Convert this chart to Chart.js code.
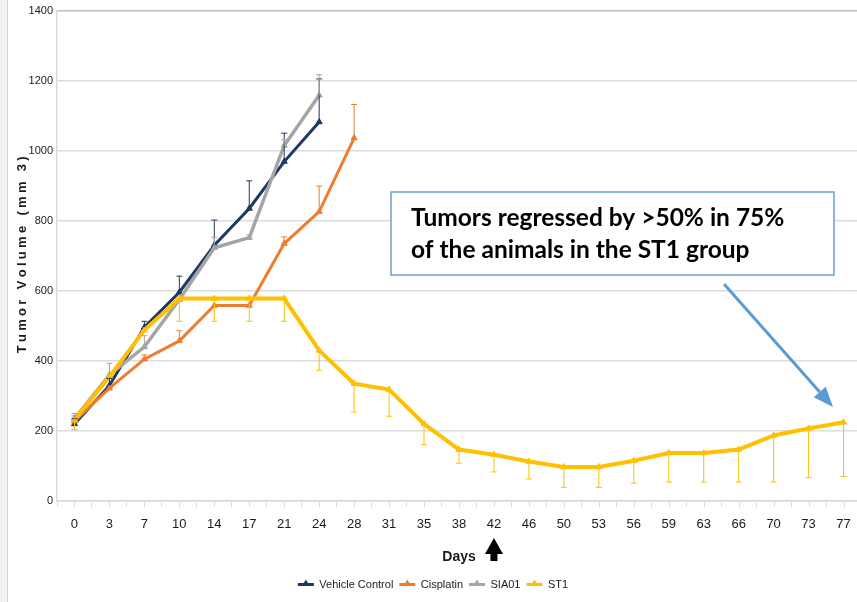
<!DOCTYPE html>
<html>
<head>
<meta charset="utf-8">
<script src="https://cdn.jsdelivr.net/npm/chart.js@4.4.1/dist/chart.umd.min.js"></script>
<style>
  html, body { margin: 0; padding: 0; background: #fff; }
  #wrap { position: relative; width: 857px; height: 602px; overflow: hidden; }
  #edge { position: absolute; left: 0; top: 0; width: 7px; height: 602px; background: #f2f2f2; border-right: 1px solid #d4d4d4; z-index: 2; }
  #chart { position: absolute; left: 0; top: 0; }
</style>
</head>
<body>
<div id="wrap">
  <div id="edge"></div>
  <canvas id="chart" width="866" height="602"></canvas>
</div>
<script>
// x categories (days)
const days = ['0', '3', '7', '10', '14', '17', '21', '24', '28', '31', '35', '38', '42', '46', '50', '53', '56', '59', '63', '66', '70', '73', '77'];

// mean tumor volume (mm3) per group
const vehicleControl = [220, 330, 496, 596, 730, 835, 969, 1082];
const cisplatin = [228, 322, 405, 457, 558, 558, 735, 826, 1036];
const sia01 = [235, 360, 440, 575, 723, 752, 1015, 1158];
const st1 = [232, 355, 488, 578, 578, 578, 578, 430, 335, 318, 220, 147, 132, 113, 97, 97, 115, 137, 137, 147, 187, 207, 225];

// error bars (upper for the growing groups, lower for ST1)
const vehicleErrUp = [15, 20, 17, 46, 72, 79, 81, 123];
const cisplatinErrUp = [15, 0, 12, 29, 0, 0, 19, 73, 96];
const sia01ErrUp = [15, 33, 32, 0, 30, 8, 16, 59];
const st1ErrDown = [28, 0, 0, 65, 65, 65, 65, 57, 81, 76, 59, 39, 49, 50, 58, 58, 64, 83, 83, 93, 133, 140, 155];

const NAVY = '#1f3864';
const ORANGE = '#ed7d31';
const GRAY = '#a5a5a5';
const GOLD = '#ffc000';
const SANS = "'Liberation Sans', Arial, sans-serif";

const errorSets = [
  { data: vehicleControl, err: vehicleErrUp, dir: 1, color: NAVY },
  { data: cisplatin, err: cisplatinErrUp, dir: 1, color: ORANGE },
  { data: sia01, err: sia01ErrUp, dir: 1, color: GRAY },
  { data: st1, err: st1ErrDown, dir: -1, color: GOLD }
];

const errorBars = {
  id: 'errorBars',
  afterDatasetsDraw(chart) {
    const { ctx, scales: { x, y } } = chart;
    ctx.save();
    ctx.lineWidth = 1;
    errorSets.forEach(set => {
      ctx.strokeStyle = set.color;
      set.data.forEach((v, i) => {
        const e = set.err[i];
        if (!e) return;
        const px = x.getPixelForValue(i);
        const py = y.getPixelForValue(v);
        const ey = y.getPixelForValue(v + set.dir * e);
        ctx.beginPath();
        ctx.moveTo(px, py);
        ctx.lineTo(px, ey);
        ctx.moveTo(px - 3, ey);
        ctx.lineTo(px + 3, ey);
        ctx.stroke();
      });
    });
    ctx.restore();
  }
};

// extra tick marks under each category, plus the y title and the callouts
const decorations = {
  id: 'decorations',
  afterDraw(chart) {
    const { ctx, chartArea, scales: { x } } = chart;
    ctx.save();

    // center ticks
    ctx.strokeStyle = '#d9d9d9';
    ctx.lineWidth = 1;
    days.forEach((d, i) => {
      const px = Math.round(x.getPixelForValue(i)) + 0.5;
      ctx.beginPath();
      ctx.moveTo(px, chartArea.bottom);
      ctx.lineTo(px, chartArea.bottom + 6);
      ctx.stroke();
    });

    // y axis title, letter spaced
    const title = 'Tumor Volume (mm 3)';
    ctx.font = 'bold 13px ' + SANS;
    ctx.fillStyle = '#1a1a1a';
    const span = 195;
    const raw = ctx.measureText(title).width;
    const gap = (span - raw) / (title.length - 1);
    ctx.translate(26, (chartArea.top + chartArea.bottom) / 2 + span / 2);
    ctx.rotate(-Math.PI / 2);
    ctx.textBaseline = 'alphabetic';
    let cx = 0;
    for (const ch of title) {
      ctx.fillText(ch, cx, 0);
      cx += ctx.measureText(ch).width + gap;
    }
    ctx.setTransform(1, 0, 0, 1, 0, 0);

    // black arrow under day 42
    const ax = x.getPixelForValue(days.indexOf('42'));
    ctx.fillStyle = '#000';
    ctx.beginPath();
    ctx.moveTo(ax, 538);
    ctx.lineTo(ax + 9, 554);
    ctx.lineTo(ax + 3.5, 554);
    ctx.lineTo(ax + 3.5, 561);
    ctx.lineTo(ax - 3.5, 561);
    ctx.lineTo(ax - 3.5, 554);
    ctx.lineTo(ax - 9, 554);
    ctx.closePath();
    ctx.fill();

    // text box
    ctx.fillStyle = '#fff';
    ctx.fillRect(391, 192, 443, 83);
    ctx.strokeStyle = '#6a9fd4';
    ctx.lineWidth = 1.5;
    ctx.strokeRect(391, 192, 443, 83);
    const line1 = 'Tumors regressed by >50% in 75%';
    const line2 = 'of the animals in the ST1 group';
    ctx.font = "bold 23px Lato, 'Open Sans', sans-serif";
    const size = 23 * 374 / ctx.measureText(line1).width;
    ctx.font = 'bold ' + size.toFixed(1) + "px Lato, 'Open Sans', sans-serif";
    ctx.fillStyle = '#000';
    ctx.fillText(line1, 411, 225.5);
    ctx.fillText(line2, 411, 257.5);

    // blue arrow to the last ST1 point
    const x0 = 724, y0 = 284, x1 = 833, y1 = 407;
    const len = Math.hypot(x1 - x0, y1 - y0);
    const ux = (x1 - x0) / len, uy = (y1 - y0) / len;
    const hx = x1 - ux * 20, hy = y1 - uy * 20;
    ctx.strokeStyle = '#5b9bd5';
    ctx.fillStyle = '#5b9bd5';
    ctx.lineWidth = 3;
    ctx.beginPath();
    ctx.moveTo(x0, y0);
    ctx.lineTo(hx, hy);
    ctx.stroke();
    ctx.beginPath();
    ctx.moveTo(x1, y1);
    ctx.lineTo(hx - uy * 8, hy + ux * 8);
    ctx.lineTo(hx + uy * 8, hy - ux * 8);
    ctx.closePath();
    ctx.fill();

    // little triangles on the legend lines
    const legend = chart.legend;
    if (legend && legend.legendHitBoxes) {
      legend.legendHitBoxes.forEach((hb, i) => {
        const item = legend.legendItems[i];
        const c = chart.data.datasets[item.datasetIndex].borderColor;
        const mx = hb.left + 8, my = hb.top + hb.height / 2;
        ctx.fillStyle = c;
        ctx.beginPath();
        ctx.moveTo(mx, my - 5);
        ctx.lineTo(mx + 3, my);
        ctx.lineTo(mx - 3, my);
        ctx.closePath();
        ctx.fill();
      });
    }
    ctx.restore();
  }
};

function series(label, data, color, width, order) {
  return {
    label: label,
    data: data,
    borderColor: color,
    backgroundColor: color,
    borderWidth: width,
    pointStyle: 'triangle',
    pointRadius: 3.5,
    pointBorderWidth: 1,
    pointBackgroundColor: color,
    pointBorderColor: color,
    tension: 0,
    order: order
  };
}

const ctx = document.getElementById('chart').getContext('2d');
new Chart(ctx, {
  type: 'line',
  data: {
    labels: days,
    datasets: [
      series('Vehicle Control', vehicleControl, NAVY, 3, 3),
      series('Cisplatin', cisplatin, ORANGE, 3, 2),
      series('SIA01', sia01, GRAY, 3.5, 1),
      series('ST1', st1, GOLD, 4, 0)
    ]
  },
  options: {
    responsive: false,
    animation: false,
    layout: { padding: { top: 5, right: 0, left: 0, bottom: 2 } },
    plugins: {
      tooltip: { enabled: false },
      legend: {
        position: 'bottom',
        labels: {
          boxWidth: 16,
          boxHeight: 3,
          padding: 6,
          color: '#1a1a1a',
          font: { family: SANS, size: 11 },
          sort: (a, b) => a.datasetIndex - b.datasetIndex,
          generateLabels(chart) {
            return Chart.defaults.plugins.legend.labels.generateLabels(chart).map(item => {
              item.lineWidth = 0;
              return item;
            });
          }
        }
      }
    },
    scales: {
      x: {
        offset: true,
        afterFit(scale) { scale.height = 72; },
        grid: { offset: true, drawOnChartArea: false, tickLength: 6, color: '#d9d9d9' },
        border: { color: '#d9d9d9', width: 1.5 },
        ticks: { color: '#1a1a1a', padding: 10, maxRotation: 0, autoSkip: false, font: { family: SANS, size: 13 } },
        title: { display: true, text: 'Days', color: '#1a1a1a', padding: { top: 0, bottom: 7 }, font: { family: SANS, size: 14, weight: 'bold' } }
      },
      y: {
        min: 0,
        max: 1400,
        afterFit(scale) { scale.width = 57; },
        ticks: { stepSize: 200, color: '#1a1a1a', padding: 4, font: { family: SANS, size: 11 }, callback: v => String(v) },
        grid: {
          drawTicks: false,
          lineWidth: 1.5,
          color: c => (c.tick && c.tick.value === 1400) ? '#bdbdbd' : '#dcdcdc'
        },
        border: { color: '#d9d9d9', width: 1.5 }
      }
    }
  },
  plugins: [errorBars, decorations]
});
</script>
</body>
</html>
